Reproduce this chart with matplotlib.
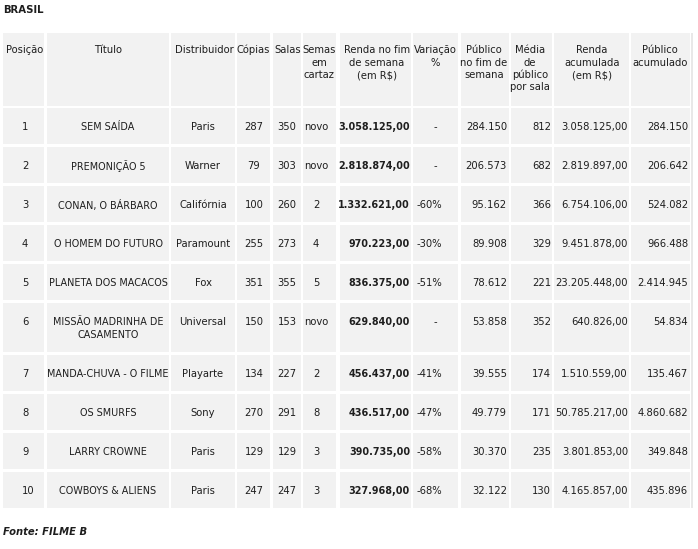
import matplotlib.pyplot as plt
from matplotlib.patches import Rectangle

# dados da tabela (bilheteria do fim de semana)
cabecalhos = ["Posição", "Título", "Distribuidor", "Cópias", "Salas", "Semas\nem\ncartaz",
              "Renda no fim\nde semana\n(em R$)", "Variação\n%", "Público\nno fim de\nsemana",
              "Média\nde\npúblico\npor sala", "Renda\nacumulada\n(em R$)", "Público\nacumulado"]
posicao = ["1", "2", "3", "4", "5", "6", "7", "8", "9", "10"]
titulos = ["SEM SAÍDA", "PREMONIÇÃO 5", "CONAN, O BÁRBARO", "O HOMEM DO FUTURO",
           "PLANETA DOS MACACOS", "MISSÃO MADRINHA DE\nCASAMENTO", "MANDA-CHUVA - O FILME",
           "OS SMURFS", "LARRY CROWNE", "COWBOYS & ALIENS"]
distribuidores = ["Paris", "Warner", "Califórnia", "Paramount", "Fox", "Universal",
                  "Playarte", "Sony", "Paris", "Paris"]
copias = ["287", "79", "100", "255", "351", "150", "134", "270", "129", "247"]
salas = ["350", "303", "260", "273", "355", "153", "227", "291", "129", "247"]
semanas = ["novo", "novo", "2", "4", "5", "novo", "2", "8", "3", "3"]
renda_fim = ["3.058.125,00", "2.818.874,00", "1.332.621,00", "970.223,00", "836.375,00",
             "629.840,00", "456.437,00", "436.517,00", "390.735,00", "327.968,00"]
variacao = ["-", "-", "-60%", "-30%", "-51%", "-", "-41%", "-47%", "-58%", "-68%"]
publico_fim = ["284.150", "206.573", "95.162", "89.908", "78.612", "53.858", "39.555",
               "49.779", "30.370", "32.122"]
media_sala = ["812", "682", "366", "329", "221", "352", "174", "171", "235", "130"]
renda_acum = ["3.058.125,00", "2.819.897,00", "6.754.106,00", "9.451.878,00", "23.205.448,00",
              "640.826,00", "1.510.559,00", "50.785.217,00", "3.801.853,00", "4.165.857,00"]
publico_acum = ["284.150", "206.642", "524.082", "966.488", "2.414.945", "54.834", "135.467",
                "4.860.682", "349.848", "435.896"]

colunas = [posicao, titulos, distribuidores, copias, salas, semanas, renda_fim, variacao,
           publico_fim, media_sala, renda_acum, publico_acum]

# layout em pixels
col_left = [3, 47, 171, 237, 273, 303, 340, 413, 461, 511, 554, 631]
col_right = [44, 169, 235, 270, 301, 336, 411, 458, 509, 552, 629, 690]
# (alinhamento, x) do texto no corpo
col_align = [("left", 22), ("center", 108), ("center", 203), ("center", 254), ("center", 287),
             ("center", 316), ("right", 410), ("left", 417), ("right", 507), ("right", 551),
             ("right", 628), ("right", 688)]
head_x = [25, 108, 204, 253, 288, 319, 377, 435, 484, 530, 592, 660]
cinza = "#f2f2f2"
cor_texto = "#1e1e1e"
fs = 7.2
line_h = 12.5

fig = plt.figure(figsize=(6.98, 5.49), dpi=100)
ax = fig.add_axes([0, 0, 1, 1])
ax.set_xlim(0, 698)
ax.set_ylim(549, 0)
ax.axis("off")

ax.text(3, 10, "BRASIL", fontsize=7.3, fontweight="bold", color=cor_texto, va="center", ha="left")

# cabecalho
top = 33
head_h = 73
for j in range(len(cabecalhos)):
    ax.add_patch(Rectangle((col_left[j], top), col_right[j] - col_left[j], head_h,
                           facecolor=cinza, edgecolor="none"))
    for k, linha in enumerate(cabecalhos[j].split("\n")):
        ax.text(head_x[j], top + 17 + k * line_h, linha, fontsize=fs, color=cor_texto,
                ha="center", va="center", parse_math=False)

# linhas
y = top + head_h + 2
for i in range(len(posicao)):
    n_lin = max(len(c[i].split("\n")) for c in colunas)
    h = 36 + (n_lin - 1) * 13
    for j, col in enumerate(colunas):
        ax.add_patch(Rectangle((col_left[j], y), col_right[j] - col_left[j], h,
                               facecolor=cinza, edgecolor="none"))
        ha, x = col_align[j]
        txt = col[i]
        if j == 7 and txt == "-":
            ha, x = "center", 435
        peso = "bold" if j == 6 else "normal"
        if j == 6:
            tam = 6.9
        elif j == 1:
            tam = 6.9
        else:
            tam = fs
        for k, linha in enumerate(txt.split("\n")):
            ax.text(x, y + 19 + k * line_h, linha, fontsize=tam, fontweight=peso,
                    color=cor_texto, ha=ha, va="center")
    y += h + 3

# borda direita
ax.add_patch(Rectangle((691, top), 2, y - 3 - top, facecolor="#e8e8e8", edgecolor="none"))

ax.text(3, 532, "Fonte: FILME B", fontsize=7.2, fontweight="bold", fontstyle="italic",
        color=cor_texto, ha="left", va="center")

fig.savefig("out.png", dpi=100)
